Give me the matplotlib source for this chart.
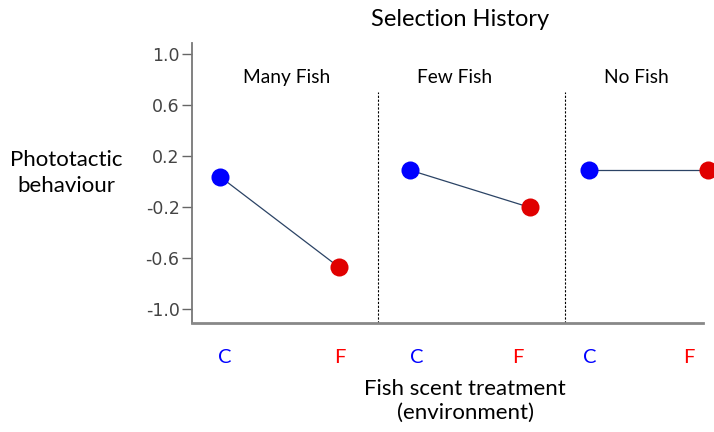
import matplotlib as mpl
mpl.use('Agg')
import matplotlib.pyplot as plt

# selection history groups and their C / F means
groups = ['Many Fish', 'Few Fish', 'No Fish']
control_vals = [0.04, 0.09, 0.09]
fish_vals = [-0.67, -0.20, 0.09]
yticks = [1.0, 0.6, 0.2, -0.2, -0.6, -1.0]
ytick_labels = ['1.0', '0.6', '0.2', '-0.2', '-0.6', '-1.0']
treatments = ['C', 'F']

plt.rcParams['font.family'] = ['Lato', 'DejaVu Sans']

fig = plt.figure(figsize=(7.14, 4.32), dpi=100)
ax = fig.add_axes([0.269, 0.2523, 0.731, 0.6482])

# x layout of each panel (C and F position)
c_pos = [0.0, 1.6, 3.1]
f_pos = [1.0, 2.6, 4.1]
lab_c = [0.04, 1.65, 3.11]
lab_f = [1.01, 2.5, 3.94]
dividers = [1.33, 2.9]
title_x = [0.56, 1.97, 3.5]

for i in range(3):
    ax.plot([c_pos[i], f_pos[i]], [control_vals[i], fish_vals[i]],
            color='#2b4365', lw=0.9, zorder=2)
    ax.plot(c_pos[i], control_vals[i], 'o', color='#0000ff', ms=13,
            mec='none', zorder=3, clip_on=False)
    ax.plot(f_pos[i], fish_vals[i], 'o', color='#e00000', ms=13,
            mec='none', zorder=3, clip_on=False)
    ax.text(title_x[i], 0.82, groups[i], ha='center', va='center', fontsize=13.8)

for d in dividers:
    ax.plot([d, d], [-1.107, 0.70], color='black', lw=0.8, ls=(0, (2, 1.5)))

ax.set_xlim(-0.235, 4.15)
ax.set_ylim(-1.107, 1.088)

ax.set_yticks(yticks)
ax.set_yticklabels(ytick_labels, family='DejaVu Sans', fontsize=12.5, color='#444444')
ax.tick_params(axis='y', length=7, width=1, color='#666666', pad=2)

ticks = []
labels = []
colors = []
for i in range(3):
    ticks += [lab_c[i], lab_f[i]]
    labels += treatments
    colors += ['#0000ff', '#ff0000']
ax.set_xticks(ticks)
ax.set_xticklabels(labels, fontsize=14.5)
for t, c in zip(ax.get_xticklabels(), colors):
    t.set_color(c)
ax.tick_params(axis='x', length=0, pad=19)

ax.spines['top'].set_visible(False)
ax.spines['right'].set_visible(False)
ax.spines['left'].set_color('#777777')
ax.spines['left'].set_linewidth(1.3)
ax.spines['bottom'].set_color('#888888')
ax.spines['bottom'].set_linewidth(2)
ax.spines['bottom'].set_bounds(-0.235, 4.06)

fig.text(460 / 714, 1 - 20 / 432, 'Selection History', ha='center', va='center', fontsize=17)
fig.text(66 / 714, 1 - 173 / 432, 'Phototactic\nbehaviour', ha='center', va='center',
         fontsize=16, linespacing=1.4)
fig.text(465 / 714, 1 - 401 / 432, 'Fish scent treatment\n(environment)', ha='center',
         va='center', fontsize=16, linespacing=1.2)

fig.savefig('out.png', dpi=100)
